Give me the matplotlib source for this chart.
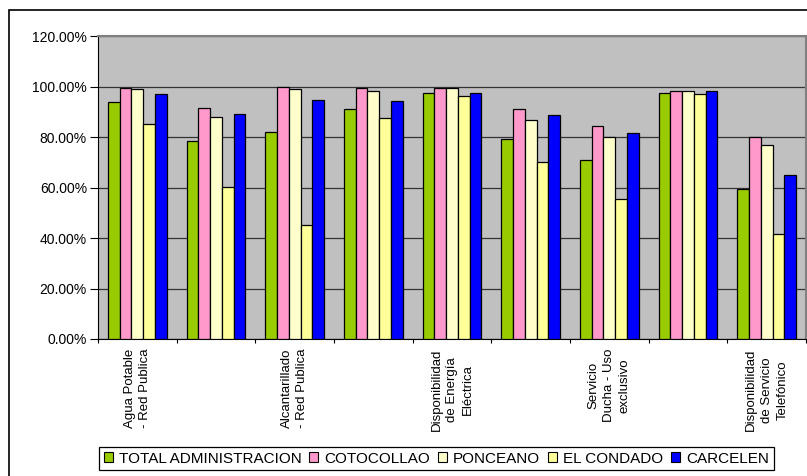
import numpy as np
import matplotlib as mpl
mpl.use('Agg')
import matplotlib.pyplot as plt
from matplotlib.patches import Patch, Rectangle

plt.rcParams['font.family'] = ['Liberation Sans', 'DejaVu Sans']

# category labels (Excel skipped every other one)
labels = ["Agua Potable\n- Red Publica", "",
          "Alcantarillado\n- Red Publica", "",
          "Disponibilidad\nde Energía\nEléctrica", "",
          "Servicio\nDucha - Uso\nexclusivo", "",
          "Disponibilidad\nde Servicio\nTelefónico"]

series = ["TOTAL ADMINISTRACION", "COTOCOLLAO", "PONCEANO", "EL CONDADO", "CARCELEN"]

total = [94.0, 78.5, 82.0, 91.0, 97.3, 79.1, 70.8, 97.3, 59.3]
cotocollao = [99.3, 91.4, 99.9, 99.3, 99.3, 91.0, 84.5, 98.4, 80.1]
ponceano = [98.9, 88.0, 98.9, 98.4, 99.3, 86.6, 80.1, 98.4, 76.7]
condado = [85.0, 60.3, 45.1, 87.4, 96.4, 70.2, 55.3, 96.9, 41.6]
carcelen = [96.9, 89.0, 94.5, 94.1, 97.4, 88.6, 81.5, 98.4, 64.8]

colors = ["#99CC00", "#FF99CC", "#FFFFCC", "#FFFF99", "#0000FF"]

fig = plt.figure(figsize=(8.07, 4.76), dpi=100)
ax = fig.add_axes([98/807, 1-339/476, 708/807, 303/476])
ax.set_facecolor("#C0C0C0")

x = np.arange(len(labels))
w = 0.149
data = [total, cotocollao, ponceano, condado, carcelen]
for i, vals in enumerate(data):
    ax.bar(x + (i - 2)*w, vals, w, color=colors[i], edgecolor="black",
           linewidth=0.9, zorder=3)

ax.set_ylim(0, 120)
ax.set_xlim(-0.5, len(labels) - 0.5)
ax.set_yticks(np.arange(0, 121, 20))
ax.set_yticklabels(["%.2f%%" % v for v in np.arange(0, 121, 20)], fontsize=10)
ax.yaxis.grid(True, color="#333333", linewidth=0.9, zorder=1)

ax.set_xticks(np.arange(len(labels) + 1) - 0.5)
ax.set_xticklabels([])
ax.set_xticks(x, minor=True)
ax.set_xticklabels(labels, minor=True, rotation=90, fontsize=9.5,
                   va="top", ha="center", multialignment="center",
                   linespacing=1.4)
ax.tick_params(axis="x", which="minor", length=0, pad=7)
ax.tick_params(axis="x", which="major", length=3, direction="out", color="black")
ax.tick_params(axis="y", length=6, direction="out", pad=2)

for s in ["left", "bottom"]:
    ax.spines[s].set_color("black")
for s in ["top", "right"]:
    ax.spines[s].set_color("#808080")
    ax.spines[s].set_linewidth(1.5)

# outer chart border
fig.patches.append(Rectangle((9/807, -0.05), 1.1, 1 - 10/476 + 0.05,
                             transform=fig.transFigure, fill=False,
                             edgecolor="black", linewidth=1.2))

handles = [Patch(facecolor=c, edgecolor="black", linewidth=0.8) for c in colors]
leg = fig.legend(handles, series, loc="upper left",
                 bbox_to_anchor=(99/807, 1 - 447/476), ncol=5, fontsize=11,
                 frameon=True, fancybox=False, framealpha=1,
                 handlelength=0.6, handleheight=0.6, handletextpad=0.4,
                 columnspacing=0.5, borderpad=0.3, borderaxespad=0)
leg.get_frame().set_edgecolor("black")
leg.get_frame().set_linewidth(0.9)

plt.savefig("out.png", dpi=100)
